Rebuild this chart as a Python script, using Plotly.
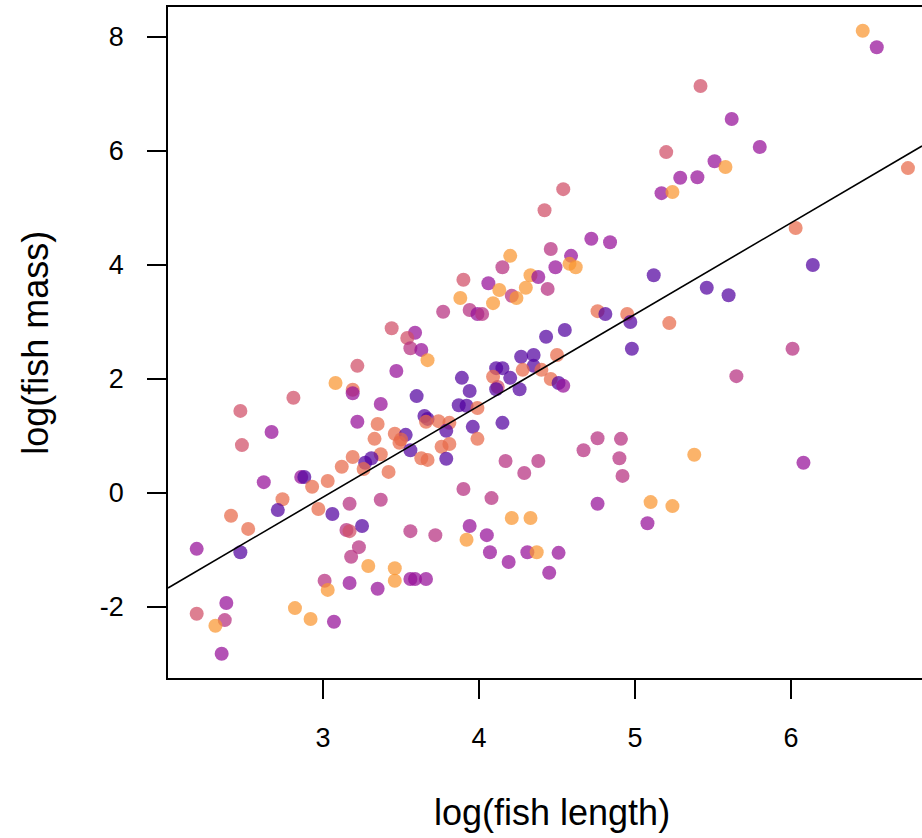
import plotly.graph_objects as go

# log(fish length), log(fish mass), colour group
log_length = [
    6.46, 6.55, 5.42, 5.62, 5.80, 5.20, 5.51, 5.58, 6.75, 5.29, 5.40, 5.17, 5.24, 4.54, 4.42,
    6.03, 6.14, 5.12, 5.46, 5.60, 5.22, 6.01, 5.65, 6.08, 5.38, 5.10, 5.24, 5.08,
    4.72, 4.84, 4.46, 4.59, 4.58, 4.62, 4.49, 4.20, 4.15, 4.33, 4.38, 4.44, 4.30, 3.90, 4.06,
    4.13, 4.21, 4.24, 3.88, 4.09, 3.77, 3.94, 3.99, 4.02, 4.76, 4.81, 4.95, 4.97, 4.43, 4.55,
    4.98, 4.50, 4.27, 4.35,
    3.44, 3.59, 3.54, 3.56, 3.63, 3.67, 3.22, 3.47, 3.08, 3.19, 3.19, 2.81, 3.37, 3.60, 2.47,
    3.22, 3.35, 3.65, 3.67, 3.66, 2.67, 3.33, 3.46, 3.53, 3.49, 3.50, 3.56, 2.48, 3.37, 3.63,
    3.67, 3.19, 3.31, 3.27, 3.12, 3.42, 2.86, 2.88, 2.62, 3.03, 2.93, 2.74, 2.71, 2.97, 3.06,
    3.17, 3.37, 2.41, 2.52, 2.19, 2.47, 3.15, 3.17, 3.25, 3.56, 3.23, 3.18, 3.29, 3.46, 3.46,
    3.01, 3.03, 3.17, 3.35, 3.56, 3.59, 3.66, 2.38, 2.19, 2.37, 2.31, 2.82, 2.92, 3.07, 2.35,
    4.35, 4.28, 4.40, 4.11, 4.15, 4.20, 4.09, 4.12, 4.11, 4.26, 4.46, 4.51, 4.54, 3.89, 3.94,
    3.87, 3.92, 3.99, 3.74, 3.81, 3.79, 3.96, 4.15, 3.99, 3.76, 3.81, 3.79, 4.17, 4.38, 4.29,
    3.90, 4.08, 4.67, 4.76, 4.91, 4.90, 4.92, 4.76, 4.21, 4.33, 3.94, 4.05, 3.72, 3.92, 4.07,
    4.19, 4.31, 4.37, 4.51, 4.45, 3.26,
]
log_mass = [
    8.11, 7.82, 7.14, 6.56, 6.07, 5.98, 5.82, 5.72, 5.70, 5.53, 5.54, 5.26, 5.28, 5.33, 4.96,
    4.65, 4.00, 3.82, 3.60, 3.47, 2.98, 2.53, 2.05, 0.53, 0.67, -0.16, -0.23, -0.53,
    4.46, 4.40, 4.28, 4.16, 4.02, 3.96, 3.96, 4.16, 3.96, 3.82, 3.79, 3.58, 3.60, 3.74, 3.68,
    3.56, 3.46, 3.42, 3.42, 3.33, 3.18, 3.21, 3.14, 3.14, 3.19, 3.14, 3.14, 3.00, 2.74, 2.86,
    2.53, 2.42, 2.39, 2.42,
    2.89, 2.81, 2.72, 2.54, 2.51, 2.33, 2.23, 2.14, 1.93, 1.81, 1.75, 1.67, 1.56, 1.70, 1.44,
    1.25, 1.21, 1.35, 1.30, 1.25, 1.07, 0.95, 1.04, 1.02, 0.88, 0.94, 0.75, 0.84, 0.68, 0.61,
    0.58, 0.63, 0.61, 0.53, 0.46, 0.37, 0.28, 0.28, 0.19, 0.21, 0.11, -0.11, -0.30, -0.28, -0.37,
    -0.19, -0.12, -0.40, -0.63, -0.98, -1.04, -0.65, -0.67, -0.58, -0.67, -0.95, -1.12, -1.28, -1.32, -1.54,
    -1.54, -1.70, -1.58, -1.68, -1.51, -1.51, -1.51, -1.93, -2.12, -2.23, -2.33, -2.02, -2.21, -2.26, -2.82,
    2.23, 2.16, 2.16, 2.19, 2.19, 2.02, 2.04, 1.86, 1.82, 1.82, 2.00, 1.93, 1.88, 2.02, 1.79,
    1.54, 1.53, 1.49, 1.26, 1.23, 1.09, 1.16, 1.23, 0.95, 0.81, 0.86, 0.60, 0.56, 0.56, 0.35,
    0.07, -0.09, 0.75, 0.96, 0.95, 0.61, 0.30, -0.19, -0.44, -0.44, -0.58, -0.74, -0.74, -0.82, -1.04,
    -1.21, -1.04, -1.04, -1.05, -1.40, 0.42,
]
group = [
    "O", "M", "R", "M", "M", "R", "M", "O", "S", "M", "M", "M", "O", "R", "R",
    "S", "P", "P", "P", "P", "S", "K", "K", "M", "O", "O", "O", "M",
    "M", "M", "K", "M", "O", "O", "M", "O", "K", "O", "M", "K", "O", "R", "M",
    "O", "K", "O", "O", "O", "K", "K", "M", "K", "S", "P", "S", "P", "P", "P",
    "P", "S", "P", "P",
    "R", "M", "R", "K", "M", "O", "R", "M", "O", "S", "M", "R", "M", "P", "R",
    "M", "S", "P", "P", "S", "M", "S", "S", "P", "S", "S", "P", "R", "S", "S",
    "S", "S", "P", "P", "S", "S", "M", "P", "M", "S", "S", "S", "P", "S", "P",
    "K", "K", "S", "S", "M", "P", "K", "R", "P", "K", "K", "K", "O", "O", "O",
    "K", "O", "M", "M", "M", "M", "M", "M", "R", "K", "O", "O", "O", "M", "M",
    "P", "S", "S", "P", "P", "P", "S", "R", "P", "P", "S", "P", "M", "P", "P",
    "P", "P", "S", "S", "S", "P", "P", "P", "S", "S", "S", "P", "K", "K", "K",
    "K", "K", "K", "K", "K", "K", "K", "M", "O", "O", "M", "M", "K", "O", "M",
    "M", "M", "O", "M", "M", "S",
]

# fitted regression line coefficients
intercept = -4.885
slope = 1.604

palette = {
    "P": "#53039f",
    "M": "#950f98",
    "K": "#b52f80",
    "R": "#d04d66",
    "S": "#e8694a",
    "O": "#fa9530",
}

x_range = [2.006, 6.84]
y_range = [-3.246, 8.526]

fig = go.Figure()
fig.add_trace(go.Scatter(
    x=log_length, y=log_mass, mode="markers",
    marker=dict(size=14, color=[palette[g] for g in group], opacity=0.72,
                line=dict(width=0)),
    hoverinfo="x+y", showlegend=False,
))
fig.add_trace(go.Scatter(
    x=x_range, y=[intercept + slope * v for v in x_range], mode="lines",
    line=dict(color="black", width=1.6), showlegend=False, hoverinfo="skip",
))

font_family = "Liberation Sans, Arial, Helvetica, sans-serif"
axis_common = dict(
    showgrid=False, zeroline=False, showline=True, linecolor="black", linewidth=1.6,
    ticks="outside", ticklen=19, tickwidth=1.6, tickcolor="black",
    tickfont=dict(family=font_family, size=27, color="black"),
)
fig.update_layout(
    width=922, height=838,
    margin=dict(l=168, r=0, t=7, b=160),
    paper_bgcolor="white", plot_bgcolor="white",
    xaxis=dict(range=x_range, tickvals=[3, 4, 5, 6], mirror=True,
               ticklabelstandoff=16, **axis_common),
    yaxis=dict(range=y_range, tickvals=[-2, 0, 2, 4, 6, 8], ticktext=["-2", "0", "2", "4", "6", "8"],
               ticklabelstandoff=18, **axis_common),
    annotations=[
        dict(text="log(fish length)", xref="paper", yref="paper", x=0.509, y=-0.2,
             xanchor="center", yanchor="middle", showarrow=False,
             font=dict(family=font_family, size=36, color="black")),
        dict(text="log(fish mass)", xref="paper", yref="paper", x=-0.176, y=0.5,
             xanchor="center", yanchor="middle", textangle=-90, showarrow=False,
             font=dict(family=font_family, size=36, color="black")),
    ],
)
fig.write_html(
    "out.html",
    config={"displayModeBar": False},
    post_script="document.body.style.margin='0';document.body.style.overflow='hidden';",
)
